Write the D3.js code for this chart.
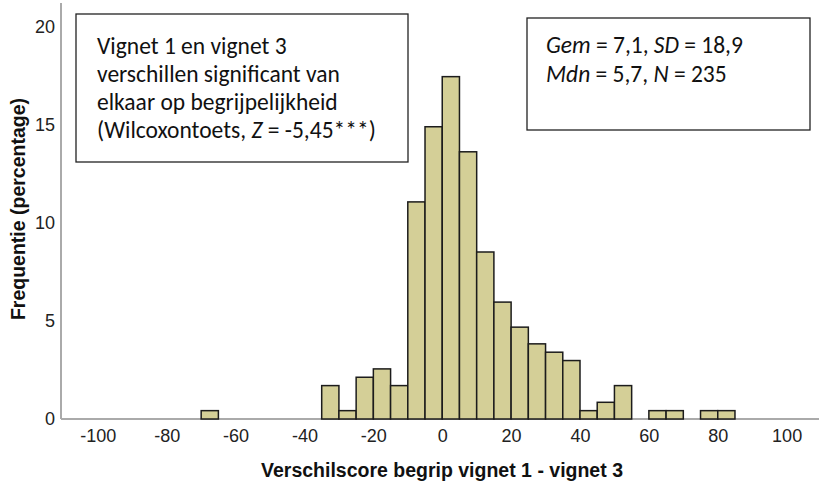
<!DOCTYPE html>
<html>
<head>
<meta charset="utf-8">
<script src="https://cdn.jsdelivr.net/npm/d3@7"></script>
<style>
  body { margin: 0; background: #fff; }
  svg { display: block; }
</style>
</head>
<body>
<svg id="chart" width="819" height="481"></svg>
<script>
// histogram bins (width 5), counts per bin, N = 235
const binStarts = [-70, -35, -30, -25, -20, -15, -10, -5, 0, 5, 10, 15, 20, 25, 30, 35, 40, 45, 50, 60, 65, 75, 80];
const binCounts = [1, 4, 1, 5, 6, 4, 26, 35, 41, 32, 20, 14, 11, 9, 8, 7, 1, 2, 4, 1, 1, 1, 1];
const N = 235;
const binWidth = 5;
const xTicks = [-100, -80, -60, -40, -20, 0, 20, 40, 60, 80, 100];
const yTicks = [0, 5, 10, 15, 20];

const bins = binStarts.map((s, i) => ({x0: s, x1: s + binWidth, pct: binCounts[i] / N * 100}));

const svg = d3.select("#chart");
const x = d3.scaleLinear().domain([-110.7, 109.4]).range([61, 819]);
const y = d3.scaleLinear().domain([0, 21.2]).range([419, 3]);

const tickFont = "'Liberation Sans', Arial, sans-serif";

// axis lines
svg.append("line")
  .attr("x1", x.range()[0]).attr("x2", x.range()[1])
  .attr("y1", y(0)).attr("y2", y(0))
  .attr("stroke", "#aaa").attr("stroke-width", 2);
svg.append("line")
  .attr("x1", x.range()[0]).attr("x2", x.range()[0])
  .attr("y1", y.range()[0]).attr("y2", y.range()[1])
  .attr("stroke", "#aaa").attr("stroke-width", 2);

// bars
svg.selectAll(".bar")
  .data(bins)
  .enter()
  .append("rect")
    .attr("class", "bar")
    .attr("x", d => x(d.x0))
    .attr("y", d => y(d.pct))
    .attr("width", d => x(d.x1) - x(d.x0))
    .attr("height", d => y(0) - y(d.pct))
    .attr("fill", "#d4cf97")
    .attr("stroke", "#1c1c1c")
    .attr("stroke-width", 1.5);

// x axis
const xAxis = g => g
  .attr("transform", `translate(0,${y(0)})`)
  .call(d3.axisBottom(x).tickValues(xTicks).tickSize(0).tickPadding(10).tickFormat(d => String(d)))
  .call(g => g.select(".domain").remove());
svg.append("g").call(xAxis)
  .selectAll("text")
    .attr("font-family", tickFont).attr("font-size", 18).attr("fill", "#222");

// y axis
const yAxis = g => g
  .attr("transform", `translate(${x.range()[0]},0)`)
  .call(d3.axisLeft(y).tickValues(yTicks).tickSize(0).tickPadding(6).tickFormat(d => String(d)))
  .call(g => g.select(".domain").remove());
svg.append("g").call(yAxis)
  .selectAll("text")
    .attr("font-family", tickFont).attr("font-size", 18).attr("fill", "#222");

// axis titles
svg.append("text")
  .attr("x", 442).attr("y", 477)
  .attr("text-anchor", "middle")
  .attr("font-family", tickFont).attr("font-size", 19.5).attr("font-weight", "bold")
  .attr("fill", "#111")
  .text("Verschilscore begrip vignet 1 - vignet 3");
svg.append("text")
  .attr("transform", "translate(25,209) rotate(-90)")
  .attr("text-anchor", "middle")
  .attr("font-family", tickFont).attr("font-size", 19.5).attr("font-weight", "bold")
  .attr("fill", "#111")
  .text("Frequentie (percentage)");

// annotation boxes
const boxFont = "Carlito, 'Open Sans', sans-serif";
const boxSize = 23.5;
svg.append("rect")
  .attr("x", 76).attr("y", 14).attr("width", 332).attr("height", 148)
  .attr("fill", "#fff").attr("stroke", "#222").attr("stroke-width", 1.3);
const box1Lines = [
  [["Vignet 1 en vignet 3", false]],
  [["verschillen significant van", false]],
  [["elkaar op begrijpelijkheid", false]],
  [["(Wilcoxontoets, ", false], ["Z", true], [" = -5,45***)", false]]
];
box1Lines.forEach((parts, i) => {
  const t = svg.append("text")
    .attr("x", 97).attr("y", 54 + i * 28)
    .attr("font-family", boxFont).attr("font-size", boxSize).attr("fill", "#111");
  parts.forEach(p => t.append("tspan").attr("font-style", p[1] ? "italic" : "normal").text(p[0]));
});

svg.append("rect")
  .attr("x", 527).attr("y", 18).attr("width", 283).attr("height", 112)
  .attr("fill", "#fff").attr("stroke", "#222").attr("stroke-width", 1.3);
const box2Lines = [
  [["Gem", true], [" = 7,1, ", false], ["SD", true], [" = 18,9", false]],
  [["Mdn", true], [" = 5,7, ", false], ["N", true], [" = 235", false]]
];
box2Lines.forEach((parts, i) => {
  const t = svg.append("text")
    .attr("x", 546).attr("y", 53 + i * 29)
    .attr("font-family", boxFont).attr("font-size", boxSize).attr("fill", "#111");
  parts.forEach(p => t.append("tspan").attr("font-style", p[1] ? "italic" : "normal").text(p[0]));
});
</script>
</body>
</html>
